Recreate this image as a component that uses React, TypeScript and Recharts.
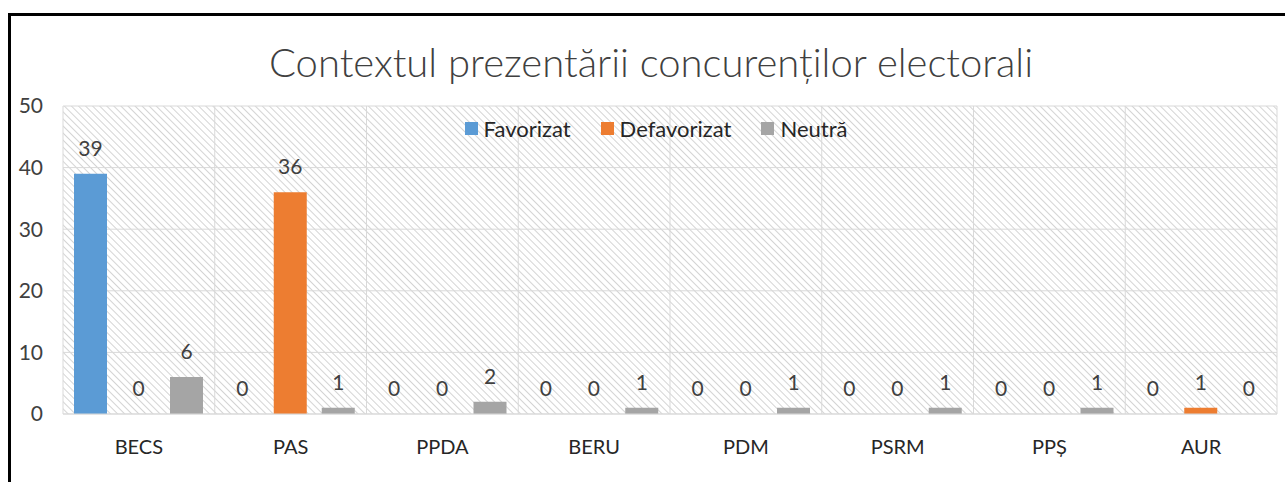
import {
  BarChart,
  Bar,
  XAxis,
  YAxis,
  CartesianGrid,
  Legend,
  LabelList,
} from "recharts";

const categories = ["BECS", "PAS", "PPDA", "BERU", "PDM", "PSRM", "PPȘ", "AUR"];
const favorizat = [39, 0, 0, 0, 0, 0, 0, 0];
const defavorizat = [0, 36, 0, 0, 0, 0, 0, 1];
const neutra = [6, 1, 2, 1, 1, 1, 1, 0];
const yTicks = [0, 10, 20, 30, 40, 50];
const seriesOrder = ["Favorizat", "Defavorizat", "Neutră"];

const data = categories.map((name, i) => ({
  name,
  Favorizat: favorizat[i],
  Defavorizat: defavorizat[i],
  Neutră: neutra[i],
}));

const FONT = "Lato, 'Open Sans', sans-serif";
const TEXT = "#404040";

function LegendContent({ payload }: any) {
  const items = [...(payload || [])].sort(
    (a: any, b: any) => seriesOrder.indexOf(a.value) - seriesOrder.indexOf(b.value)
  );
  return (
    <div style={{ display: "flex", justifyContent: "center", fontFamily: FONT, fontSize: 22, color: "#262626" }}>
      {items.map((p: any) => (
        <div key={p.value} style={{ display: "flex", alignItems: "center", margin: "0 15px" }}>
          <span style={{ width: 13, height: 13, background: p.color, display: "inline-block", marginRight: 6 }} />
          <span>{p.value}</span>
        </div>
      ))}
    </div>
  );
}

// draws the label even when the value is 0
const renderLabel = (props: any) => {
  const { x, y, width, value } = props;
  return (
    <text
      x={Number(x) + Number(width) / 2}
      y={Number(y) - 18}
      textAnchor="middle"
      fill={TEXT}
      fontFamily={FONT}
      fontSize={21}
    >
      {String(value)}
    </text>
  );
};

export default function App() {
  return (
    <div style={{ position: "relative", width: 1285, height: 482, overflow: "hidden", background: "#fff" }}>
      <style>{`body{margin:0;overflow:hidden}`}</style>
      <div
        style={{
          position: "absolute",
          left: 8,
          top: 13,
          width: 1300,
          height: 500,
          borderTop: "3px solid #000",
          borderLeft: "3px solid #000",
        }}
      />
      <div
        style={{
          position: "absolute",
          left: 0,
          width: 1302,
          top: 38,
          textAlign: "center",
          fontFamily: FONT,
          fontWeight: 300,
          fontSize: 40,
          color: TEXT,
        }}
      >
        Contextul prezentării concurenților electorali
      </div>
      <div style={{ position: "absolute", left: 0, top: 0 }}>
        <BarChart
          width={1285}
          height={482}
          data={data}
          margin={{ top: 106, right: 8, bottom: 28, left: 0 }}
          barSize={33}
          barGap={15}
        >
          <defs>
            <pattern id="hatch" width="5" height="5" patternUnits="userSpaceOnUse" patternTransform="rotate(-45)">
              <rect width="5" height="5" fill="#fff" />
              <line x1="0" y1="0" x2="0" y2="5" stroke="#d4d4d4" strokeWidth="2" />
            </pattern>
          </defs>
          <CartesianGrid
            stroke="#d9d9d9"
            fill="url(#hatch)"
            verticalCoordinatesGenerator={({ offset }: any) =>
              categories.map((_, i) => offset.left + (i * offset.width) / categories.length).concat(offset.left + offset.width)
            }
          />
          <XAxis
            dataKey="name"
            axisLine={{ stroke: "#d9d9d9" }}
            tickLine={false}
            tickSize={0}
            tickMargin={26}
            height={40}
            tick={{ fontFamily: FONT, fontSize: 20, fill: "#262626" }}
            interval={0}
          />
          <YAxis
            domain={[0, 50]}
            ticks={yTicks}
            axisLine={false}
            tickLine={false}
            tickSize={0}
            tickMargin={20}
            width={63}
            tick={{ fontFamily: FONT, fontSize: 21, fill: TEXT }}
          />
          <Legend
            verticalAlign="middle"
            layout="horizontal"
            content={<LegendContent />}
            wrapperStyle={{ top: 115, left: 0, width: 1312 }}
          />
          <Bar dataKey="Favorizat" fill="#5B9BD5" minPointSize={0.01} isAnimationActive={false}>
            <LabelList dataKey="Favorizat" content={renderLabel} />
          </Bar>
          <Bar dataKey="Defavorizat" fill="#ED7D31" minPointSize={0.01} isAnimationActive={false}>
            <LabelList dataKey="Defavorizat" content={renderLabel} />
          </Bar>
          <Bar dataKey="Neutră" fill="#A5A5A5" minPointSize={0.01} isAnimationActive={false}>
            <LabelList dataKey="Neutră" content={renderLabel} />
          </Bar>
        </BarChart>
      </div>
    </div>
  );
}
